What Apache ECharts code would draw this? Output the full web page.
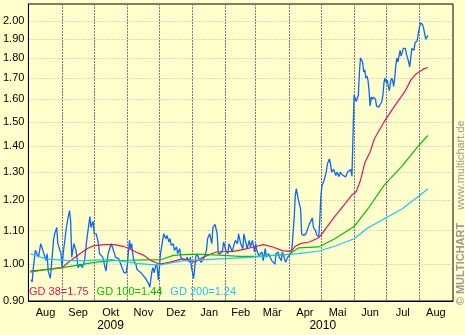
<!DOCTYPE html>
<html><head><meta charset="utf-8">
<script src="https://cdn.jsdelivr.net/npm/echarts@6/dist/echarts.min.js"></script>
<style>html,body{margin:0;padding:0;background:#ffffcc}#c{width:465px;height:335px}</style>
</head><body><div id="c"></div>
<script>
// ---- data ----
const monthLabels = ['Aug','Sep','Okt','Nov','Dez','Jan','Feb','Mär','Apr','Mai','Jun','Jul','Aug'];
const monthStarts = ['2009-08-01','2009-09-01','2009-10-01','2009-11-01','2009-12-01','2010-01-01','2010-02-01','2010-03-01','2010-04-01','2010-05-01','2010-06-01','2010-07-01','2010-08-01','2010-09-01'];
const yearLabels = ['2009','2010'];
const yearStarts = ['2009-01-01','2010-01-01','2011-01-01'];
const yTicks = [0.90,1.00,1.10,1.20,1.30,1.40,1.50,1.60,1.70,1.80,1.90,2.00];

const price = [
['2009-08-03',0.956],['2009-08-04',0.95],['2009-08-05',0.986],['2009-08-07',1.04],['2009-08-10',1.02],['2009-08-12',1.06],['2009-08-14',1.04],['2009-08-17',1.01],['2009-08-18',1.03],['2009-08-19',0.98],['2009-08-21',0.96],['2009-08-24',1.07],['2009-08-25',1.09],['2009-08-27',1.11],['2009-08-28',1.06],['2009-08-31',1.03],
['2009-09-01',0.99],['2009-09-02',1.03],['2009-09-05',1.11],['2009-09-07',1.15],['2009-09-08',1.165],['2009-09-09',1.13],['2009-09-10',1.02],['2009-09-12',1.06],['2009-09-14',1.04],['2009-09-16',0.99],['2009-09-18',1.00],['2009-09-20',0.99],['2009-09-22',1.01],['2009-09-24',1.07],['2009-09-26',1.12],['2009-09-27',1.145],['2009-09-28',1.11],['2009-09-30',1.13],
['2009-10-01',1.09],['2009-10-03',1.09],['2009-10-05',1.06],['2009-10-06',1.03],['2009-10-09',1.02],['2009-10-12',0.98],['2009-10-14',1.03],['2009-10-16',1.05],['2009-10-17',1.06],['2009-10-19',1.04],['2009-10-21',1.02],['2009-10-24',1.015],['2009-10-27',0.99],['2009-10-29',0.975],['2009-10-31',0.975],
['2009-11-01',1.0],['2009-11-03',1.07],['2009-11-04',1.045],['2009-11-05',1.06],['2009-11-06',1.03],['2009-11-07',1.01],['2009-11-09',1.0],['2009-11-10',0.985],['2009-11-12',0.98],['2009-11-14',0.975],['2009-11-15',0.97],['2009-11-18',0.96],['2009-11-19',0.955],['2009-11-21',0.945],['2009-11-22',0.936],['2009-11-24',0.98],['2009-11-25',0.99],['2009-11-26',0.975],['2009-11-28',1.0],['2009-11-29',0.99],['2009-11-30',0.955],
['2009-12-02',1.03],['2009-12-04',1.07],['2009-12-05',1.09],['2009-12-07',1.075],['2009-12-08',1.085],['2009-12-10',1.065],['2009-12-11',1.075],['2009-12-12',1.055],['2009-12-14',1.06],['2009-12-15',1.04],['2009-12-17',1.05],['2009-12-18',1.03],['2009-12-20',1.045],['2009-12-21',1.02],['2009-12-23',1.013],['2009-12-24',1.015],['2009-12-26',1.01],['2009-12-27',1.02],['2009-12-29',1.005],['2009-12-30',1.02],['2009-12-31',0.99],
['2010-01-02',0.96],['2010-01-04',1.02],['2010-01-05',1.03],['2010-01-07',1.015],['2010-01-09',1.005],['2010-01-10',1.0],['2010-01-12',1.02],['2010-01-14',1.04],['2010-01-15',1.075],['2010-01-17',1.09],['2010-01-19',1.06],['2010-01-20',1.11],['2010-01-22',1.12],['2010-01-24',1.09],['2010-01-25',1.03],['2010-01-27',1.03],['2010-01-29',1.04],['2010-01-30',1.065],
['2010-02-01',1.04],['2010-02-03',1.03],['2010-02-04',1.06],['2010-02-06',1.045],['2010-02-07',1.035],['2010-02-09',1.06],['2010-02-10',1.07],['2010-02-12',1.06],['2010-02-13',1.09],['2010-02-15',1.06],['2010-02-17',1.045],['2010-02-18',1.09],['2010-02-20',1.06],['2010-02-21',1.045],['2010-02-23',1.07],['2010-02-24',1.05],['2010-02-26',1.07],['2010-02-28',1.035],
['2010-03-01',1.06],['2010-03-02',1.04],['2010-03-04',1.025],['2010-03-05',1.02],['2010-03-07',1.035],['2010-03-08',1.01],['2010-03-10',1.045],['2010-03-11',1.02],['2010-03-13',1.03],['2010-03-14',1.03],['2010-03-16',1.01],['2010-03-17',1.005],['2010-03-19',1.0],['2010-03-20',1.03],['2010-03-22',1.035],['2010-03-23',1.02],['2010-03-25',1.01],['2010-03-26',1.035],['2010-03-28',1.015],['2010-03-29',1.005],['2010-03-31',1.02],
['2010-04-01',1.015],['2010-04-03',1.03],['2010-04-04',1.05],['2010-04-06',1.14],['2010-04-07',1.215],['2010-04-08',1.24],['2010-04-09',1.22],['2010-04-10',1.2],['2010-04-12',1.17],['2010-04-13',1.09],['2010-04-15',1.085],['2010-04-17',1.09],['2010-04-18',1.085],['2010-04-20',1.12],['2010-04-21',1.115],['2010-04-23',1.14],['2010-04-24',1.11],['2010-04-26',1.10],['2010-04-27',1.087],['2010-04-29',1.08],['2010-04-30',1.137],
['2010-05-01',1.215],['2010-05-02',1.25],['2010-05-04',1.27],['2010-05-06',1.30],['2010-05-07',1.33],['2010-05-09',1.35],['2010-05-10',1.33],['2010-05-11',1.30],['2010-05-13',1.31],['2010-05-15',1.287],['2010-05-16',1.30],['2010-05-18',1.283],['2010-05-19',1.30],['2010-05-21',1.29],['2010-05-22',1.295],['2010-05-24',1.282],['2010-05-26',1.30],['2010-05-27',1.307],['2010-05-29',1.31],['2010-05-30',1.285],['2010-05-31',1.28],
['2010-06-01',1.62],['2010-06-03',1.59],['2010-06-05',1.62],['2010-06-06',1.73],['2010-06-07',1.80],['2010-06-09',1.78],['2010-06-10',1.73],['2010-06-11',1.74],['2010-06-12',1.70],['2010-06-13',1.71],['2010-06-14',1.69],['2010-06-15',1.64],['2010-06-16',1.57],['2010-06-17',1.61],['2010-06-18',1.60],['2010-06-19',1.61],['2010-06-21',1.60],['2010-06-22',1.57],['2010-06-24',1.565],['2010-06-25',1.57],['2010-06-27',1.59],['2010-06-28',1.62],['2010-06-29',1.68],['2010-06-30',1.70],
['2010-07-01',1.68],['2010-07-02',1.69],['2010-07-03',1.66],['2010-07-04',1.64],['2010-07-05',1.68],['2010-07-06',1.70],['2010-07-07',1.69],['2010-07-08',1.66],['2010-07-09',1.70],['2010-07-10',1.76],['2010-07-11',1.80],['2010-07-12',1.78],['2010-07-13',1.79],['2010-07-14',1.84],['2010-07-15',1.81],['2010-07-16',1.82],['2010-07-17',1.85],['2010-07-19',1.85],['2010-07-20',1.82],['2010-07-21',1.83],['2010-07-22',1.78],['2010-07-23',1.755],['2010-07-24',1.80],['2010-07-25',1.85],['2010-07-26',1.86],['2010-07-27',1.84],['2010-07-28',1.88],['2010-07-30',1.89],['2010-07-31',1.93],
['2010-08-01',1.96],['2010-08-02',1.99],['2010-08-03',2.00],['2010-08-04',1.98],['2010-08-05',1.96],['2010-08-06',1.93],['2010-08-07',1.90],['2010-08-08',1.91],['2010-08-09',1.92]
];

const gd38 = [
['2009-08-02',0.98],['2009-08-20',0.985],['2009-09-01',0.99],['2009-09-07',1.005],['2009-09-16',1.026],['2009-09-25',1.046],['2009-10-01',1.054],['2009-10-11',1.057],['2009-10-20',1.057],['2009-10-28',1.052],['2009-11-02',1.046],['2009-11-09',1.035],['2009-11-16',1.026],['2009-11-23',1.01],['2009-12-01',1.0],['2009-12-10',1.005],['2009-12-22',1.015],['2009-12-28',1.013],
['2010-01-03',1.005],['2010-01-11',1.02],['2010-01-23',1.035],['2010-02-08',1.037],['2010-02-18',1.043],['2010-02-27',1.05],['2010-03-08',1.057],['2010-03-17',1.05],['2010-03-26',1.039],['2010-04-01',1.037],['2010-04-04',1.04],['2010-04-07',1.052],['2010-04-12',1.06],['2010-04-20',1.065],['2010-04-29',1.078],['2010-05-02',1.09],['2010-05-06',1.109],['2010-05-14',1.146],['2010-05-24',1.19],['2010-05-30',1.218],['2010-06-03',1.23],['2010-06-07',1.27],['2010-06-11',1.335],['2010-06-16',1.377],['2010-06-20',1.43],['2010-06-29',1.50],['2010-07-09',1.57],['2010-07-19',1.64],['2010-07-24',1.69],['2010-07-29',1.72],['2010-08-05',1.745],['2010-08-09',1.752]
];

const gd100 = [
['2009-08-02',0.977],['2009-08-17',0.985],['2009-09-01',0.99],['2009-09-16',0.997],['2009-10-01',1.005],['2009-10-17',1.01],['2009-11-02',1.011],['2009-11-17',1.012],['2009-12-03',1.013],['2009-12-14',1.025],['2009-12-28',1.028],
['2010-01-11',1.028],['2010-01-30',1.025],['2010-02-14',1.022],['2010-03-01',1.022],['2010-03-17',1.025],['2010-04-01',1.028],['2010-04-04',1.034],['2010-04-10',1.047],['2010-04-29',1.05],['2010-05-14',1.075],['2010-06-01',1.113],['2010-06-14',1.171],['2010-06-29',1.252],['2010-07-16',1.323],['2010-07-30',1.395],['2010-08-09',1.443]
];

const gd200 = [
['2009-08-02',1.03],['2009-08-17',1.015],['2009-09-07',1.01],['2009-09-20',1.01],['2009-10-17',1.013],['2009-11-01',1.006],['2009-11-09',1.002],['2009-11-18',1.0],['2009-12-01',0.997],['2009-12-14',1.005],['2009-12-24',1.01],
['2010-01-13',1.013],['2010-02-26',1.02],['2010-03-27',1.027],['2010-04-10',1.03],['2010-04-29',1.038],['2010-05-14',1.052],['2010-06-01',1.075],['2010-06-14',1.109],['2010-06-29',1.137],['2010-07-16',1.171],['2010-08-02',1.218],['2010-08-09',1.24]
];

// ---- chart ----
const FONT = '"Liberation Sans", Arial, sans-serif';
const C_PRICE = '#0a66ff', C38 = '#f0105e', C100 = '#00c400', C200 = '#14c8ff';
const T = s => echarts.time.parse(s).getTime();
const DAY = 86400000;
const xMin = T(monthStarts[0]) - 0.5 * DAY;
const xMax = T(monthStarts[monthStarts.length - 1]) + 0.5 * DAY;
const gridLines = monthStarts.slice(1, -1).map(T);
const monthMids = monthStarts.slice(0, -1).map((s, i) => (T(s) + T(monthStarts[i + 1])) / 2);
const yearMids = yearLabels.map((y, i) => {
  const a = Math.max(T(yearStarts[i]), xMin), b = Math.min(T(yearStarts[i + 1]), xMax);
  return (a + b) / 2;
});
const ln = v => Math.log(v);
const toSeries = arr => arr.map(p => [T(p[0]), ln(p[1])]);
const lastVal = { 'GD 38': gd38[gd38.length - 1][1], 'GD 100': gd100[gd100.length - 1][1], 'GD 200': gd200[gd200.length - 1][1] };

const chart = echarts.init(document.getElementById('c'), null, { renderer: 'canvas' });
chart.setOption({
  animation: false,
  backgroundColor: '#ffffcc',
  grid: { left: 26, right: 12, top: 4, bottom: 34, show: true, backgroundColor: '#ffffcc', borderColor: '#000', borderWidth: 1 },
  xAxis: [{
    type: 'value', min: xMin, max: xMax,
    axisLine: { show: true, onZero: false, lineStyle: { color: '#000', width: 1 } },
    axisTick: { show: false, customValues: gridLines },
    splitLine: { show: true, lineStyle: { color: '#77778a', type: [2, 1], width: 1 } },
    axisLabel: {
      customValues: monthMids, margin: 6, color: '#000', fontSize: 11, fontFamily: FONT,
      formatter: (v) => { const i = monthMids.findIndex(m => Math.abs(m - v) < DAY); return i >= 0 ? monthLabels[i] : ''; }
    }
  }, {
    type: 'value', min: xMin, max: xMax, position: 'bottom', offset: 13,
    axisLine: { show: false, onZero: false }, axisTick: { show: false, customValues: yearMids }, splitLine: { show: false },
    axisLabel: {
      customValues: yearMids, margin: 6, color: '#000', fontSize: 12, fontFamily: FONT,
      formatter: (v) => { const i = yearMids.findIndex(m => Math.abs(m - v) < DAY); return i >= 0 ? yearLabels[i] : ''; }
    }
  }],
  yAxis: {
    type: 'value', min: ln(0.9), max: ln(2.10),
    axisLine: { show: true, onZero: false, lineStyle: { color: '#000', width: 1 } },
    axisTick: { show: false, customValues: yTicks.map(ln) },
    splitLine: { show: true, lineStyle: { color: '#b4b4b4', type: [1, 2], width: 1 } },
    axisLabel: {
      customValues: yTicks.map(ln), margin: 4, color: '#000', fontSize: 11, fontFamily: FONT,
      formatter: v => Math.exp(v).toFixed(2)
    }
  },
  legend: {
    left: 24, top: 285, padding: 0, icon: 'none', itemWidth: 0, itemHeight: 14, itemGap: 3, selectedMode: false,
    textStyle: { fontSize: 11, fontFamily: FONT },
    data: [
      { name: 'GD 38', textStyle: { color: C38 } },
      { name: 'GD 100', textStyle: { color: C100 } },
      { name: 'GD 200', textStyle: { color: C200 } }
    ],
    formatter: name => name + '=' + lastVal[name].toFixed(2)
  },
  graphic: [
    { type: 'text', x: 461, y: 165, rotation: Math.PI / 2, style: { text: 'www.multichart.de', fill: '#9a9a9a', font: '11px ' + FONT, align: 'center', verticalAlign: 'middle' } },
    { type: 'text', x: 461, y: 264, rotation: Math.PI / 2, style: { text: '© MULTICHART', fill: '#9a9a9a', font: 'bold 11px ' + FONT, align: 'center', verticalAlign: 'middle' } }
  ],
  series: [
    { name: 'Kurs', type: 'line', data: toSeries(price), showSymbol: false, symbol: 'none', lineStyle: { color: C_PRICE, width: 1.3 }, itemStyle: { color: C_PRICE }, z: 2 },
    { name: 'GD 38', type: 'line', data: toSeries(gd38), showSymbol: false, symbol: 'none', lineStyle: { color: C38, width: 1.2 }, itemStyle: { color: C38 }, z: 3 },
    { name: 'GD 100', type: 'line', data: toSeries(gd100), showSymbol: false, symbol: 'none', lineStyle: { color: C100, width: 1.2 }, itemStyle: { color: C100 }, z: 3 },
    { name: 'GD 200', type: 'line', data: toSeries(gd200), showSymbol: false, symbol: 'none', lineStyle: { color: C200, width: 1.2 }, itemStyle: { color: C200 }, z: 3 }
  ]
});
</script></body></html>
